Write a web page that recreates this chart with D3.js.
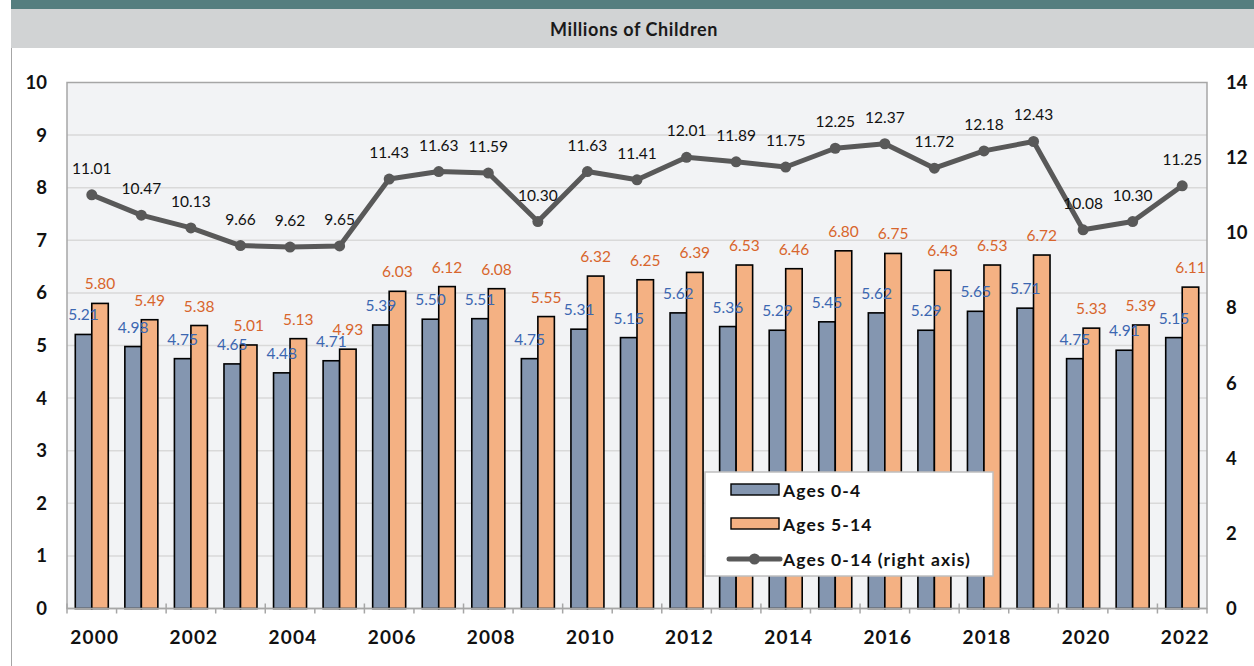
<!DOCTYPE html>
<html>
<head>
<meta charset="utf-8">
<script src="https://cdn.jsdelivr.net/npm/d3@7"></script>
<style>
  html, body { margin: 0; padding: 0; background: #ffffff; }
  svg { display: block; }
</style>
</head>
<body>
<svg id="chart" width="1254" height="666"></svg>
<script>
// Children by age group, millions
const years = d3.range(2000, 2023).map(String);
const ages0to4 = [5.21, 4.98, 4.75, 4.65, 4.48, 4.71, 5.39, 5.50, 5.51, 4.75, 5.31, 5.15,
                  5.62, 5.36, 5.29, 5.45, 5.62, 5.29, 5.65, 5.71, 4.75, 4.91, 5.15];
const ages5to14 = [5.80, 5.49, 5.38, 5.01, 5.13, 4.93, 6.03, 6.12, 6.08, 5.55, 6.32, 6.25,
                   6.39, 6.53, 6.46, 6.80, 6.75, 6.43, 6.53, 6.72, 5.33, 5.39, 6.11];
const ages0to14 = [11.01, 10.47, 10.13, 9.66, 9.62, 9.65, 11.43, 11.63, 11.59, 10.30, 11.63, 11.41,
                   12.01, 11.89, 11.75, 12.25, 12.37, 11.72, 12.18, 12.43, 10.08, 10.30, 11.25];
const leftTicks = [0, 1, 2, 3, 4, 5, 6, 7, 8, 9, 10];
const rightTicks = [0, 2, 4, 6, 8, 10, 12, 14];
const yearLabels = years.filter((d, i) => i % 2 === 0);
const seriesNames = ["Ages 0-4", "Ages 5-14", "Ages 0-14 (right axis)"];

const svg = d3.select("#chart");
const W = 1254, H = 666;
const plot = { left: 67, right: 1207, top: 82.5, bottom: 608.5 };

const colBlue = "#8496b0", colOrange = "#f4b183", colLine = "#595959";
const txtBlue = "#3c67b1", txtOrange = "#d8652c";
const font = "Lato, 'Open Sans', sans-serif";

// Header bands and frame
svg.append("rect").attr("x", 11).attr("y", 0).attr("width", W - 11).attr("height", 9).attr("fill", "#557e7f");
svg.append("rect").attr("x", 11).attr("y", 9).attr("width", W - 11).attr("height", 39).attr("fill", "#d1d3d4");
svg.append("line").attr("x1", 11.5).attr("x2", 11.5).attr("y1", 48).attr("y2", H).attr("stroke", "#a6a6a6").attr("stroke-width", 1);
svg.append("text").attr("x", 634).attr("y", 36).attr("text-anchor", "middle")
  .attr("font-family", font).attr("font-weight", "bold").attr("font-size", 18).attr("letter-spacing", 0.6)
  .attr("fill", "#1a1a1a").text("Millions of Children");

// Scales
const x = d3.scaleBand().domain(years).range([plot.left, plot.right]).paddingInner(0).paddingOuter(0);
const yL = d3.scaleLinear().domain([0, 10]).range([plot.bottom, plot.top]);
const yR = d3.scaleLinear().domain([0, 14]).range([plot.bottom, plot.top]);
const sub = d3.scaleBand().domain(["a", "b"]).range([0, 33]).padding(0);
const barOffset = (x.bandwidth() - 33) / 2;

// Plot background and gridlines
svg.append("rect").attr("x", plot.left).attr("y", plot.top)
  .attr("width", plot.right - plot.left).attr("height", plot.bottom - plot.top).attr("fill", "#f2f3f5");
svg.append("g").selectAll("line").data(leftTicks.filter(d => d > 0 && d < 10)).join("line")
  .attr("x1", plot.left).attr("x2", plot.right)
  .attr("y1", d => yL(d)).attr("y2", d => yL(d))
  .attr("stroke", "#d9d9d9").attr("stroke-width", 1.5);
svg.append("rect").attr("x", plot.left).attr("y", plot.top)
  .attr("width", plot.right - plot.left).attr("height", plot.bottom - plot.top)
  .attr("fill", "none").attr("stroke", "#a6a6a6").attr("stroke-width", 1.5);

// Bars
const gBars = svg.append("g");
gBars.selectAll("rect.a").data(ages0to4).join("rect").attr("class", "a")
  .attr("x", (d, i) => x(years[i]) + barOffset + sub("a"))
  .attr("y", d => yL(d)).attr("width", sub.bandwidth()).attr("height", d => yL(0) - yL(d))
  .attr("fill", colBlue).attr("stroke", "#000").attr("stroke-width", 1.6);
gBars.selectAll("rect.b").data(ages5to14).join("rect").attr("class", "b")
  .attr("x", (d, i) => x(years[i]) + barOffset + sub("b"))
  .attr("y", d => yL(d)).attr("width", sub.bandwidth()).attr("height", d => yL(0) - yL(d))
  .attr("fill", colOrange).attr("stroke", "#000").attr("stroke-width", 1.6);

// Bottom axis line with ticks
const axisX = svg.append("g").attr("transform", `translate(0,${plot.bottom})`);
axisX.append("line").attr("x1", plot.left).attr("x2", plot.right).attr("stroke", "#a6a6a6").attr("stroke-width", 1.5);
const edges = years.map(d => x(d)).concat([plot.right]);
axisX.selectAll("line.tk").data(edges).join("line").attr("class", "tk")
  .attr("x1", d => d).attr("x2", d => d)
  .attr("y1", (d, i) => (i % 2 === 0 ? -5 : 0)).attr("y2", 5)
  .attr("stroke", "#a6a6a6").attr("stroke-width", 1.5);
axisX.selectAll("text").data(yearLabels).join("text")
  .attr("x", d => x(d) + x.bandwidth() / 2 + 3).attr("y", 35)
  .attr("text-anchor", "middle").attr("font-family", font).attr("font-weight", "bold")
  .attr("font-size", 19).attr("letter-spacing", 1.2).attr("fill", "#111").text(d => d);

// Left and right axis labels
svg.append("g").selectAll("text").data(leftTicks).join("text")
  .attr("x", 47).attr("y", d => yL(d) + 6.5).attr("text-anchor", "end")
  .attr("font-family", font).attr("font-weight", "bold").attr("font-size", 18.5).attr("fill", "#111")
  .text(d => d);
svg.append("g").selectAll("text").data(rightTicks).join("text")
  .attr("x", 1226).attr("y", d => yR(d) + 6.5).attr("text-anchor", "start")
  .attr("font-family", font).attr("font-weight", "bold").attr("font-size", 18.5).attr("fill", "#111")
  .text(d => d);

// Total line on right axis
const cx = i => x(years[i]) + x.bandwidth() / 2;
const line = d3.line().x((d, i) => cx(i)).y(d => yR(d));
svg.append("path").datum(ages0to14).attr("d", line)
  .attr("fill", "none").attr("stroke", colLine).attr("stroke-width", 5).attr("stroke-linejoin", "round");
svg.append("g").selectAll("circle").data(ages0to14).join("circle")
  .attr("cx", (d, i) => cx(i)).attr("cy", d => yR(d)).attr("r", 5.5).attr("fill", colLine);

// Value labels
const gLab = svg.append("g").attr("font-family", font).attr("font-size", 15.5).attr("text-anchor", "middle");
gLab.selectAll("text.a").data(ages0to4).join("text").attr("class", "a")
  .attr("x", (d, i) => x(years[i]) + barOffset + sub("a") + sub.bandwidth() / 2)
  .attr("y", d => yL(d) - 14).attr("fill", txtBlue).text(d => d.toFixed(2));
gLab.selectAll("text.b").data(ages5to14).join("text").attr("class", "b")
  .attr("x", (d, i) => x(years[i]) + barOffset + sub("b") + sub.bandwidth() / 2)
  .attr("y", d => yL(d) - 14).attr("fill", txtOrange).text(d => d.toFixed(2));
gLab.selectAll("text.c").data(ages0to14).join("text").attr("class", "c")
  .attr("x", (d, i) => cx(i)).attr("y", d => yR(d) - 21).attr("fill", "#111").text(d => d.toFixed(2));

// Legend
const lg = svg.append("g").attr("transform", "translate(705,472)");
lg.append("rect").attr("width", 288).attr("height", 104).attr("fill", "#fff").attr("stroke", "#bfbfbf").attr("stroke-width", 1.5);
const rows = [18, 52, 87];
lg.append("rect").attr("x", 26).attr("y", rows[0] - 6).attr("width", 48).attr("height", 11)
  .attr("fill", colBlue).attr("stroke", "#000").attr("stroke-width", 1.4);
lg.append("rect").attr("x", 26).attr("y", rows[1] - 6).attr("width", 48).attr("height", 11)
  .attr("fill", colOrange).attr("stroke", "#000").attr("stroke-width", 1.4);
lg.append("line").attr("x1", 24).attr("x2", 75).attr("y1", rows[2]).attr("y2", rows[2])
  .attr("stroke", colLine).attr("stroke-width", 5).attr("stroke-linecap", "round");
lg.append("circle").attr("cx", 49.5).attr("cy", rows[2]).attr("r", 5.5).attr("fill", colLine);
lg.selectAll("text").data(seriesNames).join("text")
  .attr("x", 78).attr("y", (d, i) => rows[i] + 6.5)
  .attr("font-family", font).attr("font-weight", "bold").attr("font-size", 17.5).attr("letter-spacing", 1.1)
  .attr("fill", "#111").text(d => d);
</script>
</body>
</html>
